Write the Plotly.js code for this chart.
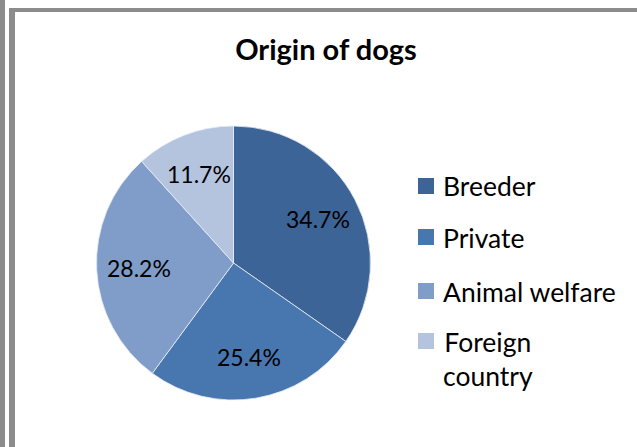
<!DOCTYPE html>
<html>
<head>
<meta charset="utf-8">
<script src="https://cdn.plot.ly/plotly-3.0.1.min.js"></script>
<style>
html,body{margin:0;padding:0;background:#fff;}
#wrap{position:relative;width:637px;height:447px;overflow:hidden;}
#chart{position:absolute;left:0;top:0;width:637px;height:447px;}
.bar{position:absolute;background:#8c8c8c;}
</style>
</head>
<body>
<div id="wrap">
<div id="chart"></div>
<div class="bar" style="left:0;top:0;width:5px;height:447px;"></div>
<div class="bar" style="left:9px;top:8px;width:6px;height:439px;"></div>
<div class="bar" style="left:9px;top:8px;width:628px;height:4px;"></div>
</div>
<script>
const categories = ["Breeder", "Private", "Animal welfare", "Foreign country"];
const legendLabels = ["Breeder", "Private", "Animal welfare", "Foreign<br>country"];
const values = [34.7, 25.4, 28.2, 11.7];
const colors = ["#3C6496", "#4876AE", "#7F9DC8", "#B4C4DE"];
const chartTitle = "Origin of dogs";

const W = 637, H = 447;
const FONT = "Lato, 'Open Sans', sans-serif";

// pie geometry (pixels)
const PX0 = 96, PX1 = 371, PYT = 126, PYB = 400;
const CX = (PX0 + PX1) / 2, CY = (PYT + PYB) / 2, R = (PX1 - PX0) / 2;

const trace = {
  type: "pie",
  labels: categories,
  values: values,
  sort: false,
  direction: "clockwise",
  rotation: 0,
  marker: {colors: colors, line: {color: "#e8eef6", width: 0.8}},
  textinfo: "none",
  showlegend: false,
  hoverinfo: "label+percent",
  domain: {x: [PX0 / W, PX1 / W], y: [1 - PYB / H, 1 - PYT / H]}
};

const shapes = [];
const annotations = [];

// data labels, placed along each slice's mid-angle
const total = values.reduce((a, b) => a + b, 0);
let cum = 0;
values.forEach((v, i) => {
  const mid = (cum + v / 2) / total * 2 * Math.PI;
  cum += v;
  const rr = 0.69 * R;
  const px = CX + rr * Math.sin(mid);
  const py = CY - rr * Math.cos(mid);
  annotations.push({
    xref: "paper", yref: "paper", x: px / W, y: 1 - py / H,
    xanchor: "center", yanchor: "middle", showarrow: false,
    text: v.toFixed(1) + "%",
    font: {family: FONT, size: 23, color: "#000"}
  });
});

// legend
const legendY = [186, 237, 291, 341];
categories.forEach((c, i) => {
  const yc = legendY[i];
  shapes.push({
    type: "rect", xref: "paper", yref: "paper",
    x0: 418 / W, x1: 434 / W, y0: 1 - (yc + 8) / H, y1: 1 - (yc - 8) / H,
    fillcolor: colors[i], line: {width: 0}
  });
  annotations.push({
    xref: "paper", yref: "paper", x: 441 / W, y: 1 - (yc - 17.5) / H,
    xanchor: "left", yanchor: "top", align: "center", showarrow: false,
    text: legendLabels[i],
    font: {family: FONT, size: 26.5, color: "#000"}
  });
});

const layout = {
  width: W, height: H,
  margin: {l: 0, r: 0, t: 0, b: 0},
  paper_bgcolor: "#fff",
  title: {
    text: "<b>" + chartTitle + "</b>",
    font: {family: FONT, size: 29, color: "#000"},
    xref: "paper", yref: "paper", x: 326 / W, y: 1 - 50 / H,
    xanchor: "center", yanchor: "middle"
  },
  shapes: shapes,
  annotations: annotations
};

Plotly.newPlot("chart", [trace], layout, {displayModeBar: false, staticPlot: true});
</script>
</body>
</html>
